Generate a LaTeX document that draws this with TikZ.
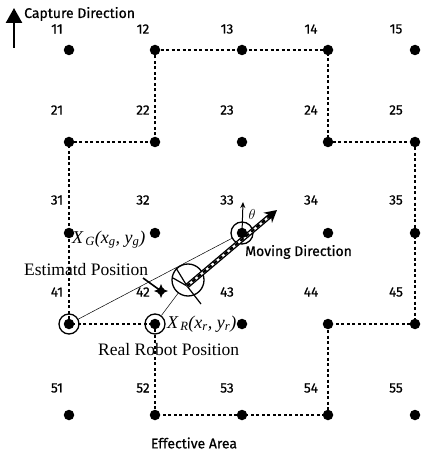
\documentclass[tikz,border=0pt]{standalone}
\usepackage{fontspec}
\setmainfont{Liberation Serif}
\newfontfamily\sansf[FakeBold=0.6]{Fira Sans}
\usetikzlibrary{arrows.meta}
\begin{document}
\begin{tikzpicture}[x=1pt,y=-1pt,
  dot/.style={circle,fill=black,inner sep=0pt,minimum size=10.5pt},
  num/.style={font=\sansf\fontsize{13.5}{15}\selectfont,inner sep=0pt},
  sanslab/.style={font=\sansf\fontsize{14}{16}\selectfont,inner sep=0pt},
  serlab/.style={font=\fontsize{17.5}{19}\selectfont,inner sep=0pt},
  mathlab/.style={font=\itshape\fontsize{18}{20}\selectfont,inner sep=0pt},
  area/.style={line width=1.1pt,dash pattern=on 3pt off 2.5pt},
  ring/.style={draw,line width=1.3pt,circle,inner sep=0pt},
  thinline/.style={line width=0.5pt},
  robotline/.style={line width=1.2pt},
]
\useasboundingbox (0,0) rectangle (421,454);

% capture direction
\coordinate (capbase) at (14,48);
\coordinate (captip) at (14,8);
\draw[line width=2.5pt,-{Triangle[length=15pt,width=16pt]}] (capbase) -- (captip);
\node[sanslab,anchor=west] (cap) at (24,14) {Capture Direction};

% grid labels
\foreach \r/\ly in {1/29,2/110,3/200,4/292,5/388}
  \foreach \c/\lx in {1/57,2/143,3/227,4/311,5/396}
    \node[num] (l\r\c) at (\lx,\ly) {\r\c};

% X_R label (partly covered by dot 43)
\node[mathlab,anchor=base west] (xr) at (167,328) {X\textsubscript{\,R}(x\textsubscript{r}, y\textsubscript{r})};

% grid dots
\foreach \r/\y in {1/50,2/142,3/233,4/324,5/415}
  \foreach \c/\x in {1/69,2/155,3/242,4/328,5/415}
    \coordinate (n\r\c) at (\x,\y);

% effective area path
\draw[area] (n12) -- (n13) -- (n14) -- (n24) -- (n25) -- (n35) -- (n45) -- (n44)
  -- (n54) -- (n53) -- (n52) -- (n42) -- (n41) -- (n31) -- (n21) -- (n22) -- cycle;

% rings
\node[ring,minimum size=20pt] (r41) at (n41) {};
\node[ring,minimum size=20pt] (r42) at (n42) {};
\node[ring,minimum size=22pt] (r33) at (n33) {};

% robot
\node[ring,minimum size=32pt] (robot) at (188,280) {};
\coordinate (q) at (187,286);
\coordinate (ra) at (176,268);
\coordinate (rb) at (173,278);
\coordinate (rc) at (201,304);
\draw[robotline] (q) -- (ra);
\draw[robotline] (q) -- (rb);
\draw[robotline] (q) -- (rc);

% thin lines
\draw[thinline] (r41) -- (r33);
\draw[thinline] (r42) -- (robot);

% moving direction band
\coordinate (tip) at (277,210);
\draw[line width=5pt,-{Stealth[length=12pt,width=13pt]}] (q) -- (tip);
\draw[white,line width=2.2pt,shorten >=12pt] (q) -- (tip);
\draw[line width=2.2pt,dash pattern=on 4pt off 3pt,shorten >=12pt] (q) -- (tip);

% dots on top
\foreach \r in {1,...,5}
  \foreach \c in {1,...,5}
    \node[dot] (d\r\c) at (n\r\c) {};

% theta arrow
\coordinate (thetatip) at (243,202);
\draw[line width=1pt,-{Stealth[length=6pt,width=5pt]}] (d33.center) -- (thetatip);
\node[inner sep=0pt,font=\fontsize{14}{16}\selectfont] (theta) at (252,214) {$\theta$};

% marker near 42
\coordinate (mk) at (161,291);
\coordinate (mks) at (143,278);
\draw[line width=1.6pt] (mks) -- (mk);
\fill (161,284) -- (163,289) -- (168,291) -- (163,293) -- (161,298) -- (159,293) -- (154,291) -- (159,289) -- cycle;
\draw[line width=1pt] (mk) circle (3.2pt);

% text labels
\node[sanslab,anchor=west] (mov) at (245,252) {Moving Direction};
\node[sanslab] (eff) at (194,443) {Effective Area};
\node[serlab,anchor=base west] (est) at (24,275) {Estimatd Position};
\node[serlab,anchor=base west] (real) at (98,355) {Real Robot Position};
\node[mathlab,anchor=base west] (xg) at (72,243) {X\textsubscript{\,G}(x\textsubscript{g}, y\textsubscript{g})};
\end{tikzpicture}
\end{document}
